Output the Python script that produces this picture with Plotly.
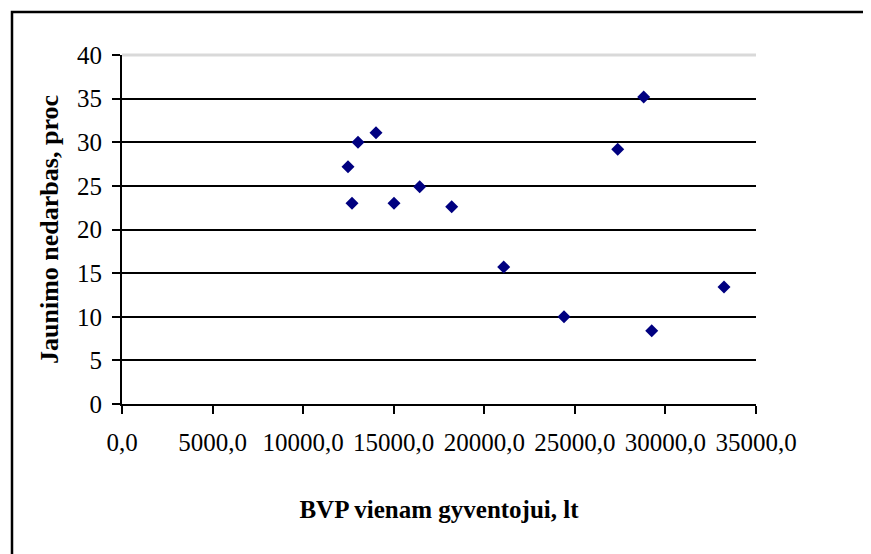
import plotly.graph_objects as go

# GDP per capita (lt) and youth unemployment (%)
bvp = [12476, 12697, 13029, 14022, 15016, 16435, 18201, 21072, 24401, 27366, 28801, 29243, 33234]
nedarbas = [27.2, 23.0, 30.0, 31.1, 23.0, 24.9, 22.6, 15.7, 10.0, 29.2, 35.2, 8.4, 13.4]

x_tickvals = [0, 5000, 10000, 15000, 20000, 25000, 30000, 35000]
x_ticktext = ["0,0", "5000,0", "10000,0", "15000,0", "20000,0", "25000,0", "30000,0", "35000,0"]
y_tickvals = [0, 5, 10, 15, 20, 25, 30, 35, 40]

FONT = "Liberation Serif"

fig = go.Figure()
fig.add_trace(go.Scatter(
    x=bvp, y=nedarbas, mode="markers",
    marker=dict(symbol="diamond", size=10, color="#000080",
                line=dict(width=0)),
    showlegend=False,
))

fig.update_layout(
    width=871, height=554,
    margin=dict(l=114, r=123, t=47, b=158),
    paper_bgcolor="white", plot_bgcolor="white",
    font=dict(family=FONT, color="black"),
    xaxis=dict(
        range=[0, 35000], tickvals=x_tickvals, ticktext=x_ticktext,
        showgrid=False, zeroline=False,
        showline=True, linecolor="black", linewidth=2,
        ticks="outside", ticklen=8, tickwidth=2, tickcolor="black",
        tickfont=dict(family=FONT, size=25, color="black"),
        ticklabelstandoff=7,
        title=dict(text="<b>BVP vienam gyventojui, lt</b>",
                   font=dict(family=FONT, size=25, color="black"),
                   standoff=45),
    ),
    yaxis=dict(
        range=[0, 40], tickvals=y_tickvals,
        showgrid=True, gridcolor="black", gridwidth=1.5,
        zeroline=False,
        showline=True, linecolor="black", linewidth=2,
        ticks="outside", ticklen=8, tickwidth=2, tickcolor="black",
        tickfont=dict(family=FONT, size=25, color="black"),
        ticklabelstandoff=5,
        title=dict(text="<b>Jaunimo nedarbas, proc</b>",
                   font=dict(family=FONT, size=26, color="black"),
                   standoff=11),
    ),
    shapes=[
        # light plot-area top edge
        dict(type="line", xref="paper", yref="paper", x0=0, x1=1, y0=1, y1=1,
             line=dict(color="#d9d9d9", width=3), layer="above"),
        # chart frame
        dict(type="rect", xref="paper", yref="paper",
             x0=-0.1735, x1=1.5, y0=-1.0, y1=1.1232,
             line=dict(color="black", width=2.5), fillcolor="rgba(0,0,0,0)",
             layer="below"),
    ],
)

fig.write_html("out.html")
